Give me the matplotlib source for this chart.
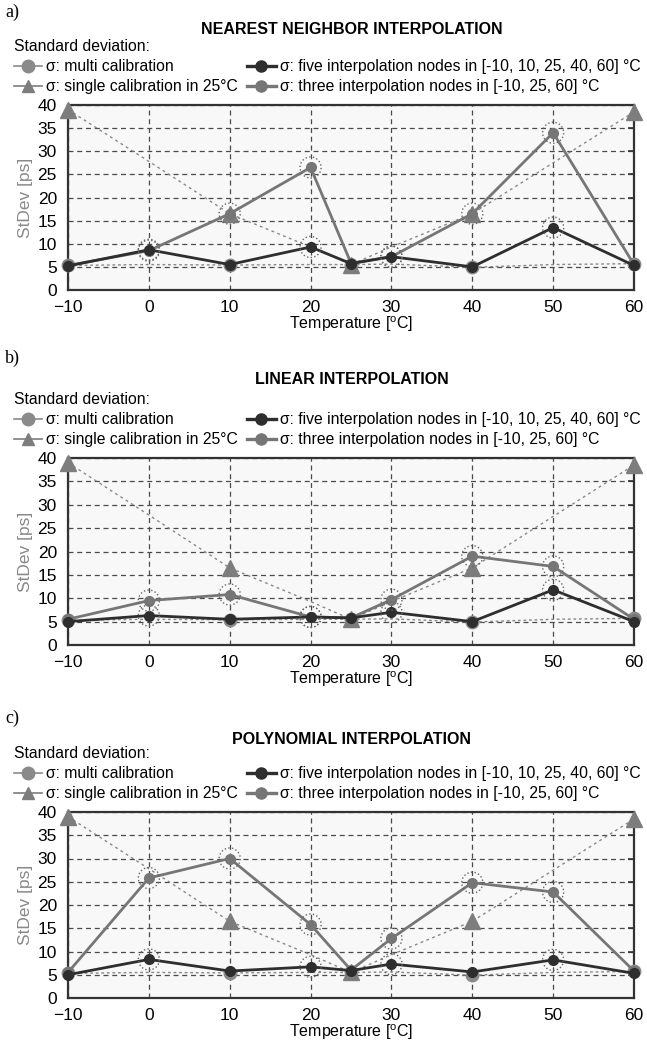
import matplotlib
matplotlib.use("Agg")
import matplotlib.pyplot as plt
from matplotlib.lines import Line2D
import numpy as np

plt.rcParams['font.family'] = ['Liberation Sans', 'DejaVu Sans']
plt.rcParams['mathtext.fontset'] = 'custom'
plt.rcParams['mathtext.rm'] = 'Liberation Sans'

temps = [-10, 0, 10, 20, 25, 30, 40, 50, 60]
xticks = [-10, 0, 10, 20, 30, 40, 50, 60]
yticks = [0, 5, 10, 15, 20, 25, 30, 35, 40]

multi_cal = [5.3, 5.5, 5.4, 5.5, 5.5, 5.6, 4.9, 5.5, 5.7]
single_cal = [39.0, 27.8, 16.5, 9.3, 5.5, 9.3, 16.5, 27.5, 38.5]
marked_points = [True, False, True, False, True, False, True, False, True]

titles = ["NEAREST NEIGHBOR INTERPOLATION", "LINEAR INTERPOLATION", "POLYNOMIAL INTERPOLATION"]
panel_labels = ["a)", "b)", "c)"]

five_nodes = [
    [5.2, 8.7, 5.5, 9.3, 5.7, 7.2, 5.0, 13.5, 5.3],
    [5.0, 6.3, 5.5, 6.0, 5.8, 7.0, 5.0, 11.8, 5.0],
    [5.0, 8.3, 5.8, 6.7, 5.9, 7.3, 5.6, 8.2, 5.3],
]
three_nodes = [
    [5.3, 8.5, 16.5, 26.5, 5.8, 7.2, 16.5, 34.0, 5.5],
    [5.5, 9.5, 10.8, 6.0, 5.8, 9.7, 19.0, 16.8, 5.5],
    [5.5, 25.8, 30.0, 15.8, 6.0, 12.8, 24.8, 22.8, 5.8],
]
five_node_set = [-10, 10, 25, 40, 60]
three_node_set = [-10, 25, 60]

label_multi = "σ: multi calibration"
label_single = "σ: single calibration in 25°C"
label_five = "σ: five interpolation nodes in [-10, 10, 25, 40, 60] °C"
label_three = "σ: three interpolation nodes in [-10, 25, 60] °C"

c_multi = '#8a8a8a'
c_single = '#7d7d7d'
c_five = '#2e2e2e'
c_three = '#767676'

W, H = 647, 1045
fig = plt.figure(figsize=(W / 100, H / 100), dpi=100)

ax_px = [(105, 290), (458, 645), (812, 998)]
left_px, right_px = 68, 634
title_cx = [352, 352, 352]
title_y = [30, 380, 740]
plab_y = [12, 358, 718]

for i in range(3):
    top, bot = ax_px[i]
    ax = fig.add_axes([left_px / W, 1 - bot / H, (right_px - left_px) / W, (bot - top) / H])
    ax.set_facecolor('#f8f8f8')
    ax.set_xlim(-10, 60)
    ax.set_ylim(0, 40)
    ax.set_xticks(xticks)
    ax.set_yticks(yticks)
    ax.grid(True, linestyle=(0, (4, 3)), color='#4a4a4a', linewidth=0.9)
    ax.set_axisbelow(True)
    for s in ax.spines.values():
        s.set_color('#333333')
        s.set_linewidth(1.6)
    ax.tick_params(axis='both', labelsize=12.5, length=0, colors='black')
    ax.tick_params(axis='x', pad=7)
    ax.tick_params(axis='y', right=True, length=4, direction='in', color='#333333',
                   width=1.2, left=False, pad=8)
    ax.set_xlabel(r"Temperature [$^{\mathregular{o}}$C]", fontsize=11.5, labelpad=0)
    ax.set_ylabel("StDev [ps]", fontsize=12.5, color='#888888', labelpad=3)

    t = np.array(temps)
    mk = [j for j, m in enumerate(marked_points) if m]
    # multi calibration
    ax.plot(temps, multi_cal, linestyle=(0, (2, 2)), color='#888888', linewidth=1.0,
            marker='o', markersize=9, markevery=mk, markerfacecolor=c_multi,
            markeredgecolor=c_multi, zorder=3, clip_on=False)
    # single calibration
    ax.plot(temps, single_cal, linestyle=(0, (2, 2.5)), color='#888888', linewidth=1.0,
            marker='^', markersize=11, markevery=mk, markerfacecolor=c_single,
            markeredgecolor=c_single, zorder=3, clip_on=False)
    # three nodes
    ax.plot(temps, three_nodes[i], color=c_three, linewidth=2.0, marker='o', markersize=7,
            markerfacecolor=c_three, markeredgecolor=c_three, zorder=4, clip_on=False)
    # five nodes
    ax.plot(temps, five_nodes[i], color=c_five, linewidth=2.0, marker='o', markersize=7,
            markerfacecolor=c_five, markeredgecolor=c_five, zorder=5, clip_on=False)
    # dotted rings on non-node points
    m3 = [tt not in three_node_set for tt in temps]
    m5 = [tt not in five_node_set for tt in temps]
    ax.scatter(t[m3], np.array(three_nodes[i])[m3], s=230, facecolors='none', edgecolors='#666666',
               linestyles=':', linewidths=1.0, zorder=6)
    ax.scatter(t[m5], np.array(five_nodes[i])[m5], s=230, facecolors='none', edgecolors='#666666',
               linestyles=':', linewidths=1.0, zorder=6)

    handles = [
        Line2D([], [], color=c_multi, marker='o', markersize=9, linewidth=1.2),
        Line2D([], [], color=c_single, marker='^', markersize=9, linewidth=1.2),
        Line2D([], [], color=c_five, marker='o', markersize=8, linewidth=2.4),
        Line2D([], [], color=c_three, marker='o', markersize=8, linewidth=2.4),
    ]
    labels = [label_multi, label_single, label_five, label_three]
    ax.legend(handles, labels, ncol=2, loc='upper left',
              bbox_to_anchor=(14 / W, 1 - (top - 66) / H), bbox_transform=fig.transFigure,
              frameon=False, fontsize=11.3, title="Standard deviation:", title_fontsize=11.3,
              alignment='left', handlelength=1.8, handletextpad=0.25, columnspacing=0.6,
              labelspacing=0.33, borderpad=0.0, borderaxespad=0.0)

    fig.text(title_cx[i] / W, 1 - title_y[i] / H, titles[i], ha='center', va='center',
             fontsize=11.5, fontweight='bold')
    fig.text(5 / W, 1 - plab_y[i] / H, panel_labels[i], ha='left', va='center',
             fontsize=13, family='Liberation Serif')

fig.savefig("out.png", dpi=100)
